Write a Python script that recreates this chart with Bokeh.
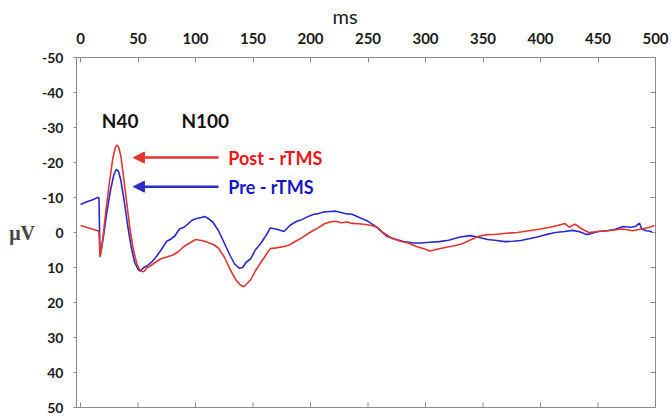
from bokeh.plotting import figure
from bokeh.models import Range1d, FixedTicker, Arrow, NormalHead, Label
from bokeh.embed import file_html
from bokeh.resources import INLINE

# ---- data (ms, microvolts; negative up) ----
pre_t = [0, 5, 10, 15, 16, 17, 18, 20, 23, 26, 29, 31, 33, 35, 38, 41, 44, 47, 50, 52, 55, 58, 61, 65,
         70, 75, 78, 82, 86, 90, 93, 97, 101, 105, 108, 111, 115, 120, 125, 130, 134, 138, 141, 144,
         148, 152, 157, 162, 165, 170, 177, 182, 188, 192, 198, 203, 207, 212, 217, 222, 230, 236,
         245, 250, 257, 262, 266, 272, 281, 290, 296, 304, 312, 320, 330, 339, 345, 354, 362, 369,
         376, 383, 390, 398, 405, 413, 421, 428, 434, 440, 445, 450, 458, 465, 472, 479, 483, 486,
         488, 492, 497]
pre_v = [-8, -8.7, -9.3, -10, -10, 6.5, 5, 1, -6, -12, -16.5, -18, -17.5, -15, -9, -2, 4, 8.5, 10.5, 11,
         10, 9.5, 8.7, 7.3, 5, 2.5, 2, 1, -1, -1.5, -2.3, -3.5, -4, -4.3, -4.6, -4, -3, -0.5, 3, 6.5, 9,
         10.2, 10, 8.5, 7.5, 5, 3, 0.5, -1.3, -1, -0.3, -2, -3.2, -3.6, -4.6, -5.2, -5.4, -5.9, -6, -6.1,
         -5.4, -5.2, -3.9, -3.2, -1.7, -0.2, 1, 1.8, 2.6, 3, 3, 2.8, 2.6, 2.2, 1.3, 0.9, 1.3, 2, 2.3,
         2.6, 2.5, 2.3, 1.8, 1.2, 0.6, 0, -0.3, -0.6, -0.2, 0.6, 0.2, -0.3, -0.5, -0.9, -1.7, -1.5,
         -1.8, -2.7, -1.0, -0.5, -0.3]

post_t = [0, 5, 10, 15, 16, 17, 18, 20, 22, 25, 28, 30, 31.5, 33, 35, 37, 40, 43, 46, 49, 52, 55, 58,
          61, 65, 70, 75, 80, 85, 90, 95, 100, 104, 108, 112, 116, 120, 125, 130, 135, 139, 142, 145,
          148, 152, 157, 162, 165, 170, 177, 182, 187, 192, 197, 202, 207, 212, 217, 222, 227, 232,
          236, 242, 248, 253, 258, 263, 270, 278, 285, 292, 298, 304, 310, 318, 325, 332, 340, 347,
          354, 362, 370, 380, 390, 400, 408, 415, 421, 425, 430, 436, 442, 450, 458, 465, 472, 480,
          488, 495, 499]
post_v = [-2, -1.5, -1, -0.5, -0.3, 7, 5, 0, -6, -14, -21, -24, -25, -24.5, -22, -17, -9, -1, 5, 9, 11,
          11.2, 10, 9.5, 8.5, 7.5, 7, 6.5, 5.5, 4, 3, 2, 2.2, 2.5, 3, 3.5, 4.5, 7, 10.5, 13.5, 15, 15.5,
          14.5, 13.5, 11, 8.5, 6, 4.6, 4.4, 4, 3.5, 2.5, 1.6, 0.5, -0.5, -1.4, -2.5, -3, -3.2, -2.8, -3,
          -2.6, -2.5, -2.3, -2, -1.5, 0, 1.5, 2.5, 3, 4, 4.6, 5.3, 4.8, 4.2, 3.8, 3.2, 2, 1, 0.6, 0.5,
          0.2, 0, -0.5, -1, -1.5, -2, -2.6, -1.5, -2.4, -1, 0, -0.3, -0.5, -0.8, -1, -0.5, -1, -1.5, -2]

x_ticks = [0, 50, 100, 150, 200, 250, 300, 350, 400, 450, 500]
y_ticks = [-50, -40, -30, -20, -10, 0, 10, 20, 30, 40, 50]
y_tick_labels = {v: str(v) for v in y_ticks}

labels = ["Post - rTMS", "Pre - rTMS"]
peaks = ["N40", "N100"]
x_title = "ms"
y_title = "μV"

RED = "#e3342f"
BLUE = "#2a2ac8"
AX = "#8a8a8a"
FONT = "Lato"

FW, FH = 579, 350
X0, X1 = -3.5, 500
Y_BOTTOM, Y_TOP = 50, -50

p = figure(frame_width=FW, frame_height=FH, x_range=Range1d(X0, X1), y_range=Range1d(Y_BOTTOM, Y_TOP),
           x_axis_location="above", output_backend="svg", toolbar_location=None, title=x_title,
           min_border_left=76, min_border_top=57, min_border_bottom=11, min_border_right=16)
p.xgrid.visible = False
p.ygrid.visible = False
p.outline_line_color = AX
p.outline_line_width = 1
p.background_fill_color = "white"

# "ms" title, placed left of frame centre as in the reference
p.title.align = "left"
p.title.offset = 256
p.title.standoff = 3
p.title.text_font = FONT
p.title.text_font_style = "normal"
p.title.text_font_size = "20px"
p.title.text_color = "#1a1a1a"

# top axis (labels)
xa = p.xaxis[0]
xa.ticker = FixedTicker(ticks=x_ticks)
xa.major_label_text_font = FONT
xa.major_label_text_font_style = "bold"
xa.major_label_text_font_size = "15px"
xa.major_label_text_color = "#1a1a1a"
xa.major_label_standoff = 14
xa.major_tick_in = 5
xa.major_tick_out = 0
xa.minor_tick_line_color = None
xa.axis_line_color = AX
xa.major_tick_line_color = AX

# left axis
ya = p.yaxis[0]
ya.ticker = FixedTicker(ticks=y_ticks)
ya.major_label_overrides = y_tick_labels
ya.axis_label = y_title
ya.axis_label_orientation = "horizontal"
ya.axis_label_text_font = "Liberation Serif"
ya.axis_label_text_font_style = "bold"
ya.axis_label_text_font_size = "20px"
ya.axis_label_standoff = 4
ya.major_label_text_font = FONT
ya.major_label_text_font_style = "bold"
ya.major_label_text_font_size = "14px"
ya.major_label_text_color = "#1a1a1a"
ya.major_label_standoff = 10
ya.major_tick_in = 0
ya.major_tick_out = 3
ya.minor_tick_line_color = None
ya.axis_line_color = AX
ya.major_tick_line_color = AX

# inner ticks along bottom and right edges of the frame
TICK_PX = 5
dy = TICK_PX * (Y_BOTTOM - Y_TOP) / FH
dx = TICK_PX * (X1 - X0) / FW
p.segment(x0=x_ticks, y0=[Y_BOTTOM] * len(x_ticks), x1=x_ticks, y1=[Y_BOTTOM - dy] * len(x_ticks),
          line_color=AX, line_width=1)
p.segment(x0=[X1] * len(y_ticks), y0=y_ticks, x1=[X1 - dx] * len(y_ticks), y1=y_ticks,
          line_color=AX, line_width=1)

p.line(pre_t, pre_v, line_color=BLUE, line_width=1.6)
p.line(post_t, post_v, line_color=RED, line_width=1.6)

# annotations
p.add_layout(Arrow(end=NormalHead(size=11, fill_color=RED, line_color=RED), x_start=120, y_start=-21.4,
                   x_end=46, y_end=-21.4, line_color=RED, line_width=2.5))
p.add_layout(Arrow(end=NormalHead(size=11, fill_color=BLUE, line_color=BLUE), x_start=120, y_start=-13.1,
                   x_end=46, y_end=-13.1, line_color=BLUE, line_width=2.5))
p.add_layout(Label(x=128.5, y=-21.4, text=labels[0], text_baseline="middle", text_font=FONT,
                   text_font_style="bold", text_font_size="18px", text_color="#ee1515"))
p.add_layout(Label(x=128.5, y=-13.1, text=labels[1], text_baseline="middle", text_font=FONT,
                   text_font_style="bold", text_font_size="18px", text_color="#1515c8"))
p.add_layout(Label(x=34.5, y=-32, text=peaks[0], text_align="center", text_baseline="middle",
                   text_font=FONT, text_font_style="bold", text_font_size="19px", text_color="#111111"))
p.add_layout(Label(x=108.5, y=-32, text=peaks[1], text_align="center", text_baseline="middle",
                   text_font=FONT, text_font_style="bold", text_font_size="19px", text_color="#111111"))

open("out.html", "w").write(file_html(p, INLINE))
